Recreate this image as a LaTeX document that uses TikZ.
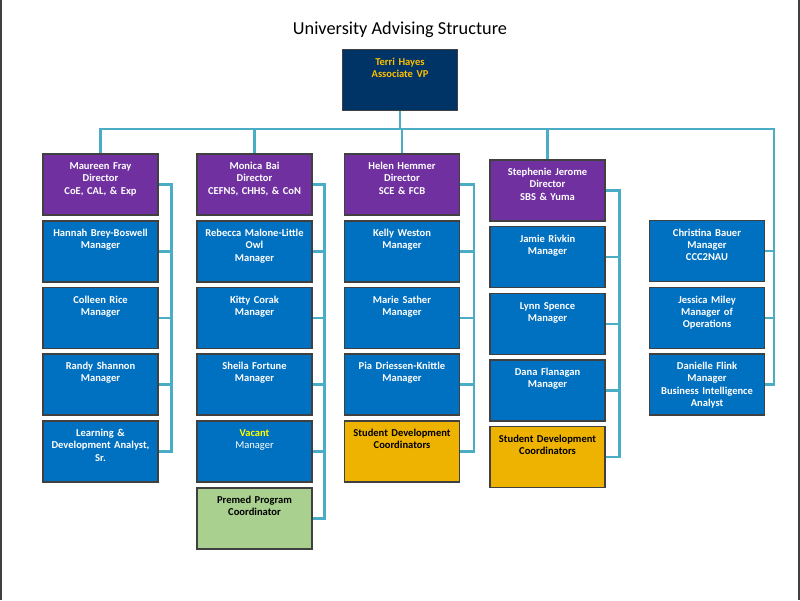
\documentclass[tikz,border=0pt]{standalone}
\usepackage{fontspec}
\setmainfont{Carlito}
\hyphenpenalty=10000

\definecolor{navy}{HTML}{003366}
\definecolor{violet}{HTML}{7030A0}
\definecolor{bleu}{HTML}{0070C0}
\definecolor{ocre}{HTML}{EEB300}
\definecolor{vert}{HTML}{A9D08E}
\definecolor{cyan}{HTML}{4BACC6}
\definecolor{or}{HTML}{FFC000}
\definecolor{jaune}{HTML}{FFFF00}

\tikzstyle{unit} = [rectangle, draw=black!75, line width=0.6pt, text width=2.16cm, inner xsep=0.07cm, inner ysep=0.06cm, align=center, text height=0.25cm, text depth=0.85cm, font=\bfseries\fontsize{6}{7}\selectfont]
\tikzstyle{vp} = [unit, fill=navy, text=or]
\tikzstyle{director} = [unit, fill=violet, text=white]
\tikzstyle{manager} = [unit, fill=bleu, text=white]
\tikzstyle{coord} = [unit, fill=ocre, text=black]
\tikzstyle{premed} = [unit, fill=vert, text=black]
\tikzstyle{link} = [draw=cyan, line width=1.3pt]
\tikzstyle{frame} = [draw=black!75, line width=1.2pt]
\tikzstyle{titre} = [font=\fontsize{10.4}{12}\selectfont]

\begin{document}
\begin{tikzpicture}[x=0.02cm, y=-0.02cm]
    \useasboundingbox (0,0) rectangle (800,600);
    \draw[frame] (0.8,0) -- (0.8,600);
    \draw[frame] (798.8,0) -- (798.8,600);

    %  title and head
    \node[titre] (title) at (400,30) {University Advising Structure};
    \node[vp] (T) at (400,80) {Terri Hayes\\Associate VP};

    %-------------------------------------------------------------
    \node[director] (D1) at (100.5,184.5) {Maureen Fray\\Director\\CoE, CAL, \& Exp};
    \node[director] (D2) at (254.5,184.5) {Monica Bai\\Director\\CEFNS, CHHS, \& CoN};
    \node[director] (D3) at (402,184.5) {Helen Hemmer\\Director\\SCE \& FCB};
    \node[director] (D4) at (547.5,190.5) {Stephenie Jerome\\Director\\SBS \& Yuma};

    %-------------------------------------------------------------
    \node[manager] (M11) at (100.5,251.5) {Hannah Brey-Boswell\\Manager};
    \node[manager] (M12) at (100.5,318) {Colleen Rice\\Manager};
    \node[manager] (M13) at (100.5,384.5) {Randy Shannon\\Manager};
    \node[manager] (M14) at (100.5,451.5) {Learning \&\\Development Analyst,\\Sr.};

    %-------------------------------------------------------------
    \node[manager] (M21) at (254.5,251.5) {Rebecca Malone-Little\\Owl\\Manager};
    \node[manager] (M22) at (254.5,318) {Kitty Corak\\Manager};
    \node[manager] (M23) at (254.5,384.5) {Sheila Fortune\\Manager};
    \node[manager] (M24) at (254.5,451.5) {{\color{jaune}Vacant}\\\mdseries Manager};
    \node[premed] (M25) at (254.5,518.5) {Premed Program\\Coordinator};

    %-------------------------------------------------------------
    \node[manager] (M31) at (402,251.5) {Kelly Weston\\Manager};
    \node[manager] (M32) at (402,318) {Marie Sather\\Manager};
    \node[manager] (M33) at (402,384.5) {Pia Driessen-Knittle\\Manager};
    \node[coord] (M34) at (402,451.5) {Student Development\\Coordinators};

    %-------------------------------------------------------------
    \node[manager] (M41) at (547.5,257) {Jamie Rivkin\\Manager};
    \node[manager] (M42) at (547.5,324) {Lynn Spence\\Manager};
    \node[manager] (M43) at (547.5,390.5) {Dana Flanagan\\Manager};
    \node[coord] (M44) at (547.5,457) {Student Development\\Coordinators};

    %-------------------------------------------------------------
    \node[manager] (M51) at (707,251) {Christina Bauer\\Manager\\CCC2NAU};
    \node[manager] (M52) at (707,318) {Jessica Miley\\Manager of\\Operations};
    \node[manager] (M53) at (707,384.5) {Danielle Flink\\Manager\\Business Intelligence\\Analyst};

    %  connectors
    \coordinate (bar) at (400,129);
    \coordinate (corner) at (774,129);
    \draw[link] (T.south) -- (bar);
    \draw[link] (D1.north) |- (corner) |- (M53.east);
    \foreach \d in {D2,D3,D4}
        \draw[link] (\d.north) -- (\d.north |- bar);

    \draw[link] (D1.east) -- ++(13,0) |- (M14.east);
    \foreach \m in {M11,M12,M13}
        \draw[link] (\m.east) -- ++(13,0);
    \draw[link] (D2.east) -- ++(12,0) |- (M25.east);
    \foreach \m in {M21,M22,M23,M24}
        \draw[link] (\m.east) -- ++(12,0);
    \draw[link] (D3.east) -- ++(14,0) |- (M34.east);
    \foreach \m in {M31,M32,M33}
        \draw[link] (\m.east) -- ++(14,0);
    \draw[link] (D4.east) -- ++(14,0) |- (M44.east);
    \foreach \m in {M41,M42,M43}
        \draw[link] (\m.east) -- ++(14,0);
    \foreach \m in {M51,M52}
        \draw[link] (\m.east) -- ++(10,0);

\end{tikzpicture}
\end{document}
